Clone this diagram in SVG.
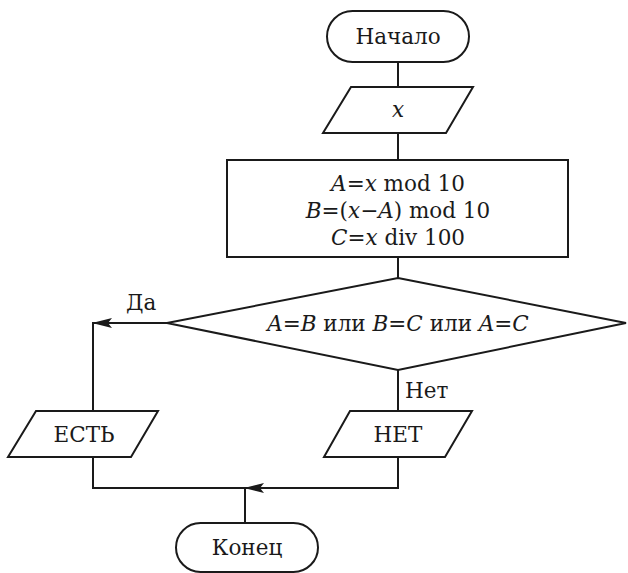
<svg xmlns="http://www.w3.org/2000/svg" width="628" height="573" viewBox="0 0 628 573">
<style>
.s{fill:#fff;stroke:#1a1a1a;stroke-width:2}
.l{fill:none;stroke:#1a1a1a;stroke-width:2}
text{font-family:"DejaVu Serif","Liberation Serif",serif;font-size:21.5px;fill:#1a1a1a;text-anchor:middle}
.i{font-style:italic}
.lt{text-anchor:start}
</style>
<defs>
<marker id="ah" markerWidth="20" markerHeight="10" refX="19" refY="5" orient="auto" markerUnits="userSpaceOnUse">
<path d="M0,0 L20,5 L0,10 L4,5 Z" fill="#1a1a1a"/>
</marker>
</defs>
<g id="connectors">
<line class="l" x1="398" y1="62" x2="398" y2="87"/>
<line class="l" x1="398" y1="133" x2="398" y2="160"/>
<line class="l" x1="398" y1="257" x2="398" y2="278"/>
<line class="l" x1="167" y1="323" x2="93" y2="323" marker-end="url(#ah)"/>
<line class="l" x1="93" y1="322" x2="93" y2="411"/>
<line class="l" x1="398" y1="370" x2="398" y2="411"/>
<polyline class="l" points="93,457 93,488 245,488"/>
<line class="l" x1="398" y1="457" x2="398" y2="489"/>
<line class="l" x1="399" y1="488" x2="245" y2="488" marker-end="url(#ah)"/>
<line class="l" x1="245" y1="488" x2="245" y2="523"/>
<text class="lt" x="126" y="310">Да</text>
<text class="lt" x="405" y="398">Нет</text>
</g>
<g id="start">
<rect class="s" x="327" y="11" width="142" height="51" rx="25.5"/>
<text x="398" y="44">Начало</text>
</g>
<g id="input">
<polygon class="s" points="351,87 473,87 446,133 323,133"/>
<text class="i" x="398" y="117">x</text>
</g>
<g id="process">
<rect class="s" x="227" y="160" width="341" height="97"/>
<text x="398" y="191"><tspan class="i">A</tspan>=<tspan class="i">x</tspan> mod 10</text>
<text x="398" y="218"><tspan class="i">B</tspan>=(<tspan class="i">x</tspan>−<tspan class="i">A</tspan>) mod 10</text>
<text x="398" y="245"><tspan class="i">C</tspan>=<tspan class="i">x</tspan> div 100</text>
</g>
<g id="decision">
<polygon class="s" points="398,278 626,323 398,370 167,323"/>
<text x="398" y="331"><tspan class="i">A</tspan>=<tspan class="i">B</tspan> или <tspan class="i">B</tspan>=<tspan class="i">C</tspan> или <tspan class="i">A</tspan>=<tspan class="i">C</tspan></text>
</g>
<g id="yes">
<polygon class="s" points="36,411 158,411 131,457 8,457"/>
<text x="84" y="442">ЕСТЬ</text>
</g>
<g id="no">
<polygon class="s" points="350,411 472,411 445,457 324,457"/>
<text x="398" y="442">НЕТ</text>
</g>
<g id="end">
<rect class="s" x="176" y="523" width="142" height="49" rx="24.5"/>
<text x="247" y="555">Конец</text>
</g>
</svg>
